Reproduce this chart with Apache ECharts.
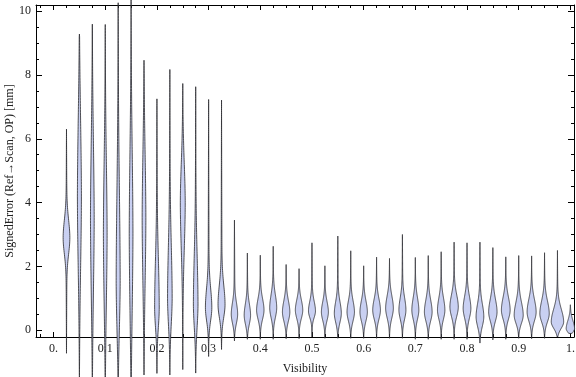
<!DOCTYPE html>
<html>
<head>
<meta charset="utf-8">
<script src="https://cdn.jsdelivr.net/npm/echarts@6/dist/echarts.min.js"></script>
<style>
  html, body { margin: 0; padding: 0; background: #fff; }
  #chart { width: 576px; height: 377px; }
</style>
</head>
<body>
<div id="chart"></div>
<script>
// visibility bins (violin centres)
const visibility = [0.025, 0.05, 0.075, 0.1, 0.125, 0.15, 0.175, 0.2, 0.225, 0.25,
  0.275, 0.3, 0.325, 0.35, 0.375, 0.4, 0.425, 0.45, 0.475, 0.5,
  0.525, 0.55, 0.575, 0.6, 0.625, 0.65, 0.675, 0.7, 0.725, 0.75,
  0.775, 0.8, 0.825, 0.85, 0.875, 0.9, 0.925, 0.95, 0.975, 1.0];
// signed error extent per bin [mm]
const errMin = [-0.72, -1.6, -1.6, -1.6, -1.6, -1.6, -1.4, -1.35, -1.4, -1.23,
  -1.34, -0.82, -0.6, -0.33, -0.28, -0.28, -0.28, -0.26, -0.26, -0.21,
  -0.25, -0.25, -0.25, -0.25, -0.25, -0.25, -0.25, -0.28, -0.28, -0.28,
  -0.28, -0.28, -0.4, -0.3, -0.28, -0.25, -0.26, -0.25, -0.21, -0.1];
const errMax = [6.3, 9.28, 9.59, 9.58, 10.26, 10.5, 8.46, 7.25, 8.17, 7.73,
  7.63, 7.23, 7.21, 3.45, 2.42, 2.35, 2.63, 2.06, 1.93, 2.74,
  2.02, 2.95, 2.49, 2.02, 2.29, 2.25, 3.0, 2.28, 2.34, 2.46,
  2.76, 2.74, 2.76, 2.59, 2.3, 2.34, 2.33, 2.43, 2.5, 0.8];
// density shape: mode, spread below / above, peak density
const errMode = [2.9, 4.2, 3.5, 3.0, 1.5, 3.0, 3.5, 0.7, 1.0, 4.0,
  0.8, 0.7, 0.8, 0.5, 0.47, 0.63, 0.7, 0.57, 0.63, 0.6,
  0.57, 0.53, 0.57, 0.57, 0.63, 0.69, 0.63, 0.63, 0.57, 0.63,
  0.73, 0.68, 0.42, 0.57, 0.63, 0.47, 0.57, 0.52, 0.26, 0.05];
const spreadLo = [0.5, 2.2, 2.3, 2.2, 1.5, 2.5, 2.0, 0.6, 0.8, 1.4,
  0.7, 0.4, 0.4, 0.28, 0.28, 0.28, 0.3, 0.28, 0.26, 0.2,
  0.26, 0.28, 0.28, 0.28, 0.28, 0.3, 0.28, 0.28, 0.28, 0.28,
  0.3, 0.3, 0.3, 0.28, 0.28, 0.25, 0.28, 0.26, 0.2, 0.12];
const spreadHi = [0.55, 2.4, 2.3, 2.2, 2.8, 2.5, 2.0, 1.5, 1.6, 1.2,
  1.5, 0.6, 0.6, 0.35, 0.35, 0.35, 0.4, 0.35, 0.32, 0.3,
  0.32, 0.35, 0.35, 0.35, 0.35, 0.38, 0.38, 0.38, 0.38, 0.38,
  0.38, 0.38, 0.4, 0.4, 0.4, 0.4, 0.4, 0.4, 0.4, 0.25];
const peakDensity = [0.95, 0.5, 0.45, 0.45, 0.5, 0.45, 0.45, 0.6, 0.6, 0.65,
  0.6, 0.9, 1.0, 0.9, 0.9, 1.07, 1.0, 1.07, 1.07, 1.0,
  1.0, 1.0, 1.07, 1.07, 1.12, 1.12, 1.0, 1.0, 1.12, 1.07,
  1.23, 1.12, 1.12, 1.23, 1.29, 1.34, 1.34, 1.4, 1.9, 1.23];
const xLabelValues = [0, 0.1, 0.2, 0.3, 0.4, 0.5, 0.6, 0.7, 0.8, 0.9, 1];
const xMinorValues = [-0.025, 0.025, 0.05, 0.075, 0.125, 0.15, 0.175, 0.225, 0.25, 0.275,
  0.325, 0.35, 0.375, 0.425, 0.45, 0.475, 0.525, 0.55, 0.575, 0.625, 0.65, 0.675,
  0.725, 0.75, 0.775, 0.825, 0.85, 0.875, 0.925, 0.95, 0.975];
const yLabelValues = [0, 2, 4, 6, 8, 10];
const yMinorValues = [0.5, 1, 1.5, 2.5, 3, 3.5, 4.5, 5, 5.5, 6.5, 7, 7.5, 8.5, 9, 9.5];

const X_MIN = -0.034, X_MAX = 1.007, Y_MIN = -0.21, Y_MAX = 10.19;
const WIDTH_SCALE = 0.0058; // x units per density unit
const TAIL = 0.17;
const FONT = '"Liberation Serif", "DejaVu Serif", serif';

function halfWidth(i, y) {
  const m = errMode[i];
  const below = y < m;
  const s = below ? spreadLo[i] : spreadHi[i];
  const z = (y - m) / s;
  const tip = below ? errMin[i] : errMax[i];
  const u = Math.min(1, Math.abs(y - m) / Math.abs(tip - m));
  return peakDensity[i] * Math.exp(-0.5 * z * z) + TAIL * (1 - u);
}

function renderViolin(params, api) {
  const i = api.value(1);
  const xc = api.value(0);
  const lo = errMin[i], hi = errMax[i];
  const n = 120;
  const right = [], left = [];
  for (let k = 0; k <= n; k++) {
    const y = lo + (hi - lo) * k / n;
    const w = (k === 0 || k === n) ? 0 : halfWidth(i, y) * WIDTH_SCALE;
    right.push(api.coord([xc + w, y]));
    left.push(api.coord([xc - w, y]));
  }
  const points = right.concat(left.reverse());
  return {
    type: 'polygon',
    shape: { points: points },
    style: {
      fill: '#c9d0f2',
      stroke: 'rgba(45,45,50,0.82)',
      lineWidth: 1
    }
  };
}

function xAxisDef(pos, values, len, labels, line) {
  return {
    type: 'value', position: pos, min: X_MIN, max: X_MAX,
    axisLine: { show: line, onZero: false, lineStyle: { color: '#000', width: 1 } },
    axisTick: { show: true, inside: true, length: len, customValues: values,
      lineStyle: { color: '#000', width: 1 } },
    axisLabel: labels ? {
      show: true, customValues: values, margin: 6,
      fontFamily: FONT, fontSize: 12, color: '#222',
      formatter: v => (Math.abs(v) < 1e-9 ? '0.' : Math.abs(v - 1) < 1e-9 ? '1.' : v.toFixed(1))
    } : { show: false },
    splitLine: { show: false }
  };
}

function yAxisDef(pos, values, len, labels, line) {
  return {
    type: 'value', position: pos, min: Y_MIN, max: Y_MAX,
    axisLine: { show: line, onZero: false, lineStyle: { color: '#000', width: 1 } },
    axisTick: { show: true, inside: true, length: len, customValues: values,
      lineStyle: { color: '#000', width: 1 } },
    axisLabel: labels ? {
      show: true, customValues: values, margin: 5,
      fontFamily: FONT, fontSize: 12, color: '#222',
      formatter: v => String(Math.round(v))
    } : { show: false },
    splitLine: { show: false }
  };
}

const chart = echarts.init(document.getElementById('chart'), null, { renderer: 'canvas' });

const xBottom = xAxisDef('bottom', xLabelValues, 5, true, true);
xBottom.name = 'Visibility';
xBottom.nameLocation = 'middle';
xBottom.nameGap = 26;
xBottom.nameMoveOverlap = false;
xBottom.nameTextStyle = { fontFamily: FONT, fontSize: 12, color: '#222' };

const yLeft = yAxisDef('left', yLabelValues, 6, true, true);
yLeft.name = 'SignedError (Ref\u2192Scan, OP) [mm]';
yLeft.nameLocation = 'middle';
yLeft.nameGap = 20;
yLeft.nameMoveOverlap = false;
yLeft.nameTextStyle = { fontFamily: FONT, fontSize: 12, color: '#222' };

chart.setOption({
  animation: false,
  backgroundColor: '#fff',
  grid: { left: 36, right: 2, top: 5, bottom: 40, containLabel: false, outerBoundsMode: 'none' },
  xAxis: [
    xBottom,
    xAxisDef('bottom', xMinorValues, 3, false, false),
    xAxisDef('top', xLabelValues, 5, false, true),
    xAxisDef('top', xMinorValues, 3, false, false)
  ],
  yAxis: [
    yLeft,
    yAxisDef('left', yMinorValues, 3, false, false),
    yAxisDef('right', yLabelValues, 6, false, true),
    yAxisDef('right', yMinorValues, 3, false, false)
  ],
  series: [{
    type: 'custom',
    renderItem: renderViolin,
    clip: false,
    xAxisIndex: 0,
    yAxisIndex: 0,
    encode: { x: 0, y: -1 },
    data: visibility.map((v, i) => [v, i])
  }]
});
</script>
</body>
</html>
